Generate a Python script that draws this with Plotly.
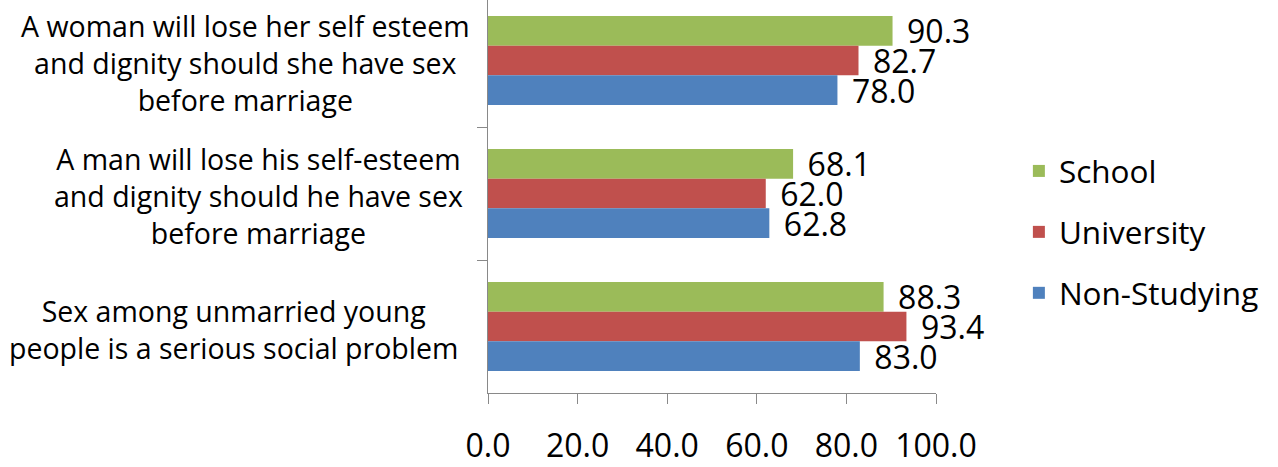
import plotly.graph_objects as go

# Data (top-to-bottom display order)
categories = [
    "A woman will lose her self esteem<br>and dignity should she have sex<br>before marriage",
    "A man will lose his self-esteem<br>and dignity should he have sex<br>before marriage",
    "Sex among unmarried young<br>people is a serious social problem",
]
school = [90.3, 68.1, 88.3]
university = [82.7, 62.0, 93.4]
non_studying = [78.0, 62.8, 83.0]

series_names = ["School", "University", "Non-Studying"]
series_values = [school, university, non_studying]
series_colors = ["#9BBB59", "#C0504D", "#4F81BD"]

x_ticks = [0, 20, 40, 60, 80, 100]

FONT = "Open Sans"
AXIS_COLOR = "#898989"
PLOT_LEFT, PLOT_W = 488, 448
label_centers_px = [245, 258, 233]  # horizontal centre of each category label block

fig = go.Figure()
for name, vals, col in zip(series_names, series_values, series_colors):
    fig.add_trace(go.Bar(
        name=name,
        y=categories,
        x=vals,
        orientation="h",
        marker=dict(color=col, line=dict(width=0)),
        text=vals,
        texttemplate="\u00a0\u200a%{x:.1f}",
        textposition="outside",
        textfont=dict(family=FONT, size=32, color="#000000"),
        constraintext="none",
        cliponaxis=False,
        legendgroup=name,
    ))

# Category labels as centered multi-line annotations
for cat, cx in zip(categories, label_centers_px):
    fig.add_annotation(
        x=(cx - PLOT_LEFT) / PLOT_W, xref="paper", xanchor="center",
        y=cat, yref="y", yanchor="middle", yshift=-2.5,
        text=cat, showarrow=False, align="center",
        font=dict(family=FONT, size=28.5, color="#000000"),
    )

fig.update_layout(
    width=1278, height=467,
    margin=dict(l=488, r=342, t=0, b=74, pad=0, autoexpand=False),
    paper_bgcolor="white", plot_bgcolor="white",
    barmode="group", bargap=0.331, bargroupgap=0,
    font=dict(family=FONT, color="#000000"),
    legend=dict(
        x=1.185, xanchor="left", y=0.4098, yanchor="middle",
        font=dict(family=FONT, size=31.5, color="#000000"),
        traceorder="grouped", tracegroupgap=17,
        bgcolor="rgba(0,0,0,0)",
    ),
    xaxis=dict(
        range=[0, 100], tickvals=x_ticks, tickformat=".1f",
        showgrid=False, zeroline=False, automargin=False,
        showline=True, linecolor=AXIS_COLOR, linewidth=1,
        ticks="outside", ticklen=10, tickcolor=AXIS_COLOR, tickwidth=1,
        tickfont=dict(family=FONT, size=32, color="#000000"),
        ticklabelstandoff=15,
    ),
    yaxis=dict(
        type="category", categoryorder="array", categoryarray=categories,
        range=[2.5, -0.455], automargin=False,
        showgrid=False, zeroline=False,
        showline=True, linecolor=AXIS_COLOR, linewidth=1,
        ticks="outside", ticklen=10, tickcolor=AXIS_COLOR, tickwidth=1,
        tickson="boundaries", showticklabels=False,
    ),
    showlegend=True,
)

fig.write_html("out.html")
